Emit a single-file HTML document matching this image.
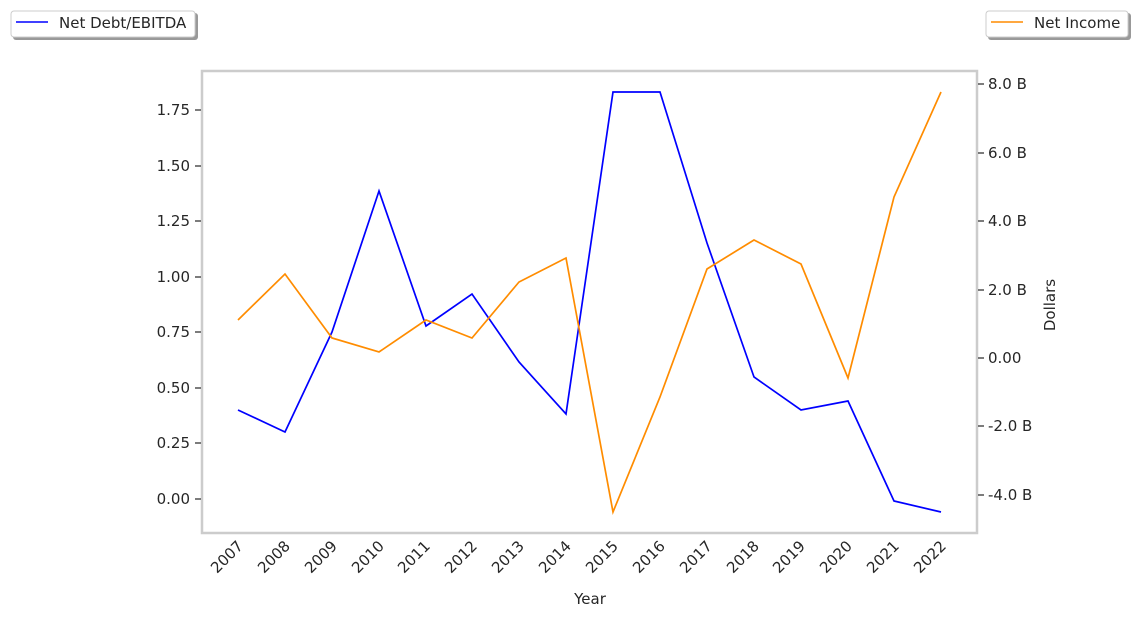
<!DOCTYPE html>
<html><head><style>body{margin:0;background:#fff}svg{display:block}text{font-family:"DejaVu Sans","Liberation Sans",sans-serif;fill:#262626;font-size:15px}</style></head>
<body>
<svg width="1138" height="618" viewBox="0 0 1138 618">
<rect x="13" y="13" width="185" height="27" rx="3" fill="#999"/>
<rect x="11" y="11" width="184" height="26" rx="3" fill="#fff" stroke="#ccc"/>
<line x1="16" y1="22" x2="48" y2="22" stroke="#00f" stroke-width="1.5"/>
<text x="59" y="28">Net Debt/EBITDA</text>
<rect x="988" y="13" width="143" height="27" rx="3" fill="#999"/>
<rect x="986" y="11" width="142" height="26" rx="3" fill="#fff" stroke="#ccc"/>
<line x1="991" y1="22" x2="1023" y2="22" stroke="#ff8c00" stroke-width="1.5"/>
<text x="1034" y="28">Net Income</text>
<rect x="202" y="71" width="775" height="462" fill="none" stroke="#ccc" stroke-width="2.5"/>
<g stroke="#262626" stroke-width="1.2">
<line x1="195" y1="110" x2="201" y2="110"/><line x1="195" y1="166" x2="201" y2="166"/><line x1="195" y1="221" x2="201" y2="221"/><line x1="195" y1="277" x2="201" y2="277"/><line x1="195" y1="332" x2="201" y2="332"/><line x1="195" y1="388" x2="201" y2="388"/><line x1="195" y1="443" x2="201" y2="443"/><line x1="195" y1="499" x2="201" y2="499"/>
<line x1="978" y1="84" x2="984" y2="84"/><line x1="978" y1="153" x2="984" y2="153"/><line x1="978" y1="221" x2="984" y2="221"/><line x1="978" y1="290" x2="984" y2="290"/><line x1="978" y1="358" x2="984" y2="358"/><line x1="978" y1="426" x2="984" y2="426"/><line x1="978" y1="495" x2="984" y2="495"/>
</g>
<g text-anchor="end">
<text x="190" y="115">1.75</text><text x="190" y="171">1.50</text><text x="190" y="226">1.25</text><text x="190" y="282">1.00</text><text x="190" y="337">0.75</text><text x="190" y="393">0.50</text><text x="190" y="448">0.25</text><text x="190" y="504">0.00</text>
</g>
<g>
<text x="988" y="89">8.0 B</text><text x="988" y="158">6.0 B</text><text x="988" y="226">4.0 B</text><text x="988" y="295">2.0 B</text><text x="988" y="363">0.00</text><text x="988" y="431">-2.0 B</text><text x="988" y="500">-4.0 B</text>
</g>
<text transform="translate(1055,305) rotate(-90)" text-anchor="middle" font-size="16">Dollars</text>
<text x="590" y="604" text-anchor="middle" font-size="16">Year</text>
<g text-anchor="end">
<text transform="translate(244,547) rotate(-45)">2007</text>
<text transform="translate(291,547) rotate(-45)">2008</text>
<text transform="translate(338,547) rotate(-45)">2009</text>
<text transform="translate(385,547) rotate(-45)">2010</text>
<text transform="translate(431,547) rotate(-45)">2011</text>
<text transform="translate(478,547) rotate(-45)">2012</text>
<text transform="translate(525,547) rotate(-45)">2013</text>
<text transform="translate(572,547) rotate(-45)">2014</text>
<text transform="translate(619,547) rotate(-45)">2015</text>
<text transform="translate(666,547) rotate(-45)">2016</text>
<text transform="translate(713,547) rotate(-45)">2017</text>
<text transform="translate(760,547) rotate(-45)">2018</text>
<text transform="translate(806,547) rotate(-45)">2019</text>
<text transform="translate(853,547) rotate(-45)">2020</text>
<text transform="translate(900,547) rotate(-45)">2021</text>
<text transform="translate(947,547) rotate(-45)">2022</text>
</g>
<polyline fill="none" stroke="#00f" stroke-width="1.7" points="238,410 285,432 332,332 379,191 426,326 472,294 519,362 566,414 613,92 660,92 707,243 754,377 801,410 848,401 894,501 941,512"/>
<polyline fill="none" stroke="#ff8c00" stroke-width="1.7" points="238,320 285,274 332,338 379,352 426,320 472,338 519,282 566,258 613,512 660,397 707,269 754,240 801,264 848,378 894,197 941,92"/>
</svg>
</body></html>
